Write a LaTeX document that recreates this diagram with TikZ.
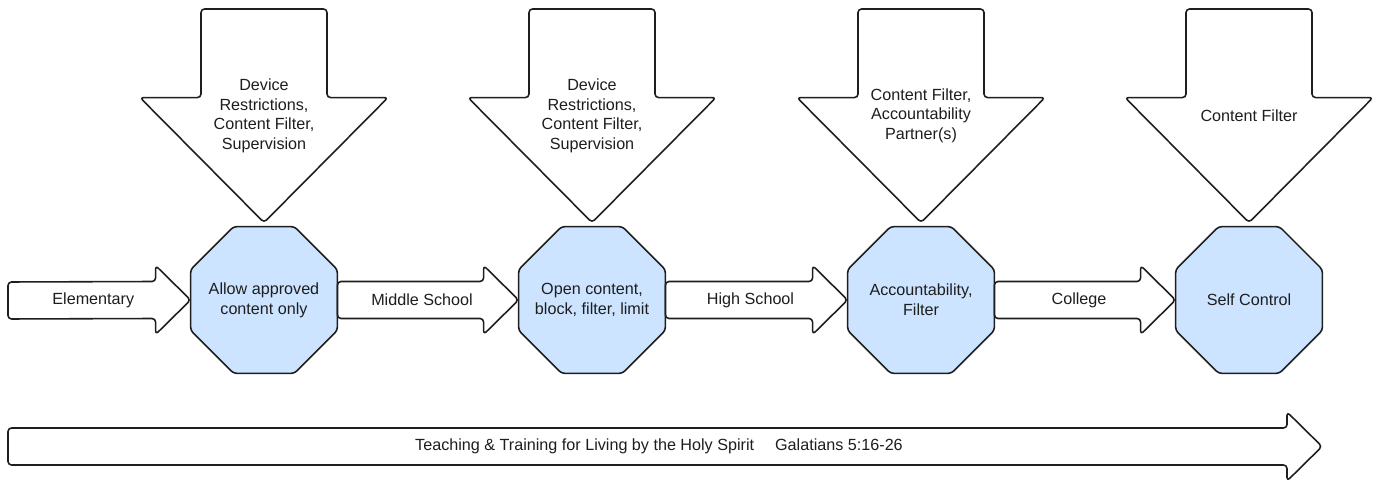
\documentclass[tikz,border=0pt]{standalone}
\usepackage{fontspec}
\setmainfont{Liberation Sans}
\usepackage{tikz}
\usetikzlibrary{shapes.geometric,calc,positioning}

\definecolor{octblue}{RGB}{204,228,255}
\definecolor{inkgray}{RGB}{30,30,30}

\tikzset{
	blockline/.style={draw=inkgray, line width=0.9pt, fill=white, rounded corners=2pt, line join=round},
	blocklabel/.style={align=center, text=inkgray, inner sep=0pt, font={\fontsize{9.2pt}{11.3pt}\selectfont}},
	stage/.style={regular polygon, regular polygon sides=8, minimum size=3.18cm, inner sep=-10pt, outer sep=0pt,
		draw=inkgray, line width=0.9pt, fill=octblue, rounded corners=2pt, align=center, text=inkgray,
		font={\fontsize{9.2pt}{11.3pt}\selectfont}}
}

% block arrow pointing right: name, tail, tip, text
\newcommand{\rightblock}[4]{
	\draw[blockline] ($(#2)+(0,-18.5)$) -- ($(#3)+(-35,-18.5)$) -- ($(#3)+(-35,-34.5)$) -- (#3)
		-- ($(#3)+(-35,34.5)$) -- ($(#3)+(-35,18.5)$) -- ($(#2)+(0,18.5)$) -- cycle;
	\node[blocklabel] (#1) at ($(#2)!0.5!(#3)+(-6,0)$) {#4};
}
% block arrow pointing down: name, tail, tip, text
\newcommand{\downblock}[4]{
	\draw[blockline] ($(#2)+(-63,0)$) -- ($(#3)+(-63,-125)$) -- ($(#3)+(-124,-125)$) -- (#3)
		-- ($(#3)+(124,-125)$) -- ($(#3)+(63,-125)$) -- ($(#2)+(63,0)$) -- cycle;
	\node[blocklabel] (#1) at ($(#2)!0.5!(#3)$) {#4};
}

\begin{document}
\begin{tikzpicture}[x=0.02cm, y=-0.02cm]
	\useasboundingbox (0,0) rectangle (1378,482);

	% stages
	\node[stage] (allow) at (264,300) {Allow approved\\content only};
	\node[stage] (open) at (592,300) {Open content,\\block, filter, limit};
	\node[stage] (acct) at (921,300) {Accountability,\\Filter};
	\node[stage] (self) at (1249,300) {Self Control};

	% arrows between stages
	\coordinate (start) at (8,300.5);
	\rightblock{elem}{start}{allow.west}{Elementary}
	\rightblock{middle}{allow.east}{open.west}{Middle School}
	\rightblock{high}{open.east}{acct.west}{High School}
	\rightblock{college}{acct.east}{self.west}{College}

	% safeguards from above
	\coordinate (top1) at (264,9);
	\coordinate (top2) at (592,9);
	\coordinate (top3) at (921,9);
	\coordinate (top4) at (1249,9);
	\downblock{guard1}{top1}{$(allow.north)+(0,-4)$}{Device\\Restrictions,\\Content Filter,\\Supervision}
	\downblock{guard2}{top2}{$(open.north)+(0,-4)$}{Device\\Restrictions,\\Content Filter,\\Supervision}
	\downblock{guard3}{top3}{$(acct.north)+(0,-4)$}{Content Filter,\\Accountability\\Partner(s)}
	\downblock{guard4}{top4}{$(self.north)+(0,-4)$}{Content Filter}

	% teaching arrow
	\coordinate (teachstart) at (8,446.5);
	\coordinate (teachend) at (1322,446.5);
	\rightblock{teach}{teachstart}{teachend}{Teaching \& Training for Living by the Holy Spirit\hspace{1.3em}Galatians 5:16-26}
\end{tikzpicture}
\end{document}
